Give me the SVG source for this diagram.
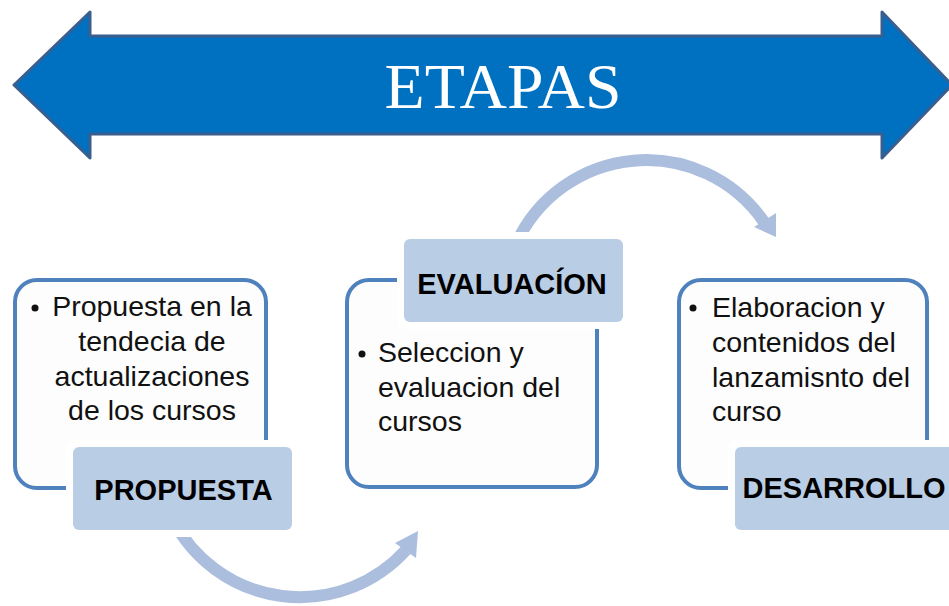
<svg xmlns="http://www.w3.org/2000/svg" width="949" height="606" viewBox="0 0 949 606">
<style>
.frame{fill:#FDFDFD;stroke:#4F81BD;stroke-width:4}
.gap{fill:#FFFFFF}
.lab{fill:#B9CDE5}
.labt{font-family:"Liberation Sans",Arial,sans-serif;font-weight:bold;font-size:29px;fill:#000;text-anchor:middle}
.body{font-family:"Liberation Sans",Arial,sans-serif;font-size:28.5px;fill:#111}
.arc{fill:none;stroke:#ABBEDE;stroke-width:12}
.head{fill:#ABBEDE}
</style>
<rect width="949" height="606" fill="#FFFFFF"/>
<g id="etapas">
<polygon points="14,85 90,12 90,36 882,36 882,12 952,85 882,158 882,134 90,134 90,158" fill="#0070C0" stroke="#3A5F8F" stroke-width="3" stroke-linejoin="round"/>
<text x="503" y="108" font-family="'Liberation Serif','Times New Roman',serif" font-size="64" fill="#FFFFFF" text-anchor="middle" textLength="237" lengthAdjust="spacingAndGlyphs">ETAPAS</text>
</g>
<g id="connectors">
<path class="arc" d="M 173 520 A 143 143 0 0 0 406 550"/>
<polygon class="head" points="418,531 395,543 416,558"/>
<path class="arc" d="M 516 244 A 143 143 0 0 1 764 222"/>
<polygon class="head" points="776,237 776,213 754,227"/>
</g>
<g id="propuesta">
<rect class="frame" x="15" y="280" width="251" height="208" rx="22"/>
<rect class="gap" x="66" y="440" width="233" height="97" rx="8"/>
<rect class="lab" x="73" y="447" width="219" height="83" rx="6"/>
<text class="labt" x="183.5" y="500">PROPUESTA</text>
<circle cx="35" cy="308" r="3.5" fill="#111"/>
<text class="body" text-anchor="middle"><tspan x="152" y="316">Propuesta en la</tspan><tspan x="152" y="351">tendecia de</tspan><tspan x="152" y="386">actualizaciones</tspan><tspan x="152" y="420">de los cursos</tspan></text>
</g>
<g id="evaluacion">
<rect class="frame" x="347" y="280" width="250" height="207" rx="22"/>
<rect class="gap" x="397" y="232" width="233" height="97" rx="8"/>
<rect class="lab" x="404" y="239" width="219" height="83" rx="6"/>
<text class="labt" x="512" y="294">EVALUACÍON</text>
<circle cx="362" cy="354" r="3.5" fill="#111"/>
<text class="body"><tspan x="378" y="362">Seleccion y</tspan><tspan x="378" y="397">evaluacion del</tspan><tspan x="378" y="431">cursos</tspan></text>
</g>
<g id="desarrollo">
<rect class="frame" x="679" y="280" width="248" height="208" rx="22"/>
<rect class="gap" x="728" y="440" width="233" height="97" rx="8"/>
<rect class="lab" x="735" y="447" width="219" height="83" rx="6"/>
<text class="labt" x="844" y="498">DESARROLLO</text>
<circle cx="693" cy="308" r="3.5" fill="#111"/>
<text class="body"><tspan x="712" y="317">Elaboracion y</tspan><tspan x="712" y="352">contenidos del</tspan><tspan x="712" y="387">lanzamisnto del</tspan><tspan x="712" y="421">curso</tspan></text>
</g>
</svg>
